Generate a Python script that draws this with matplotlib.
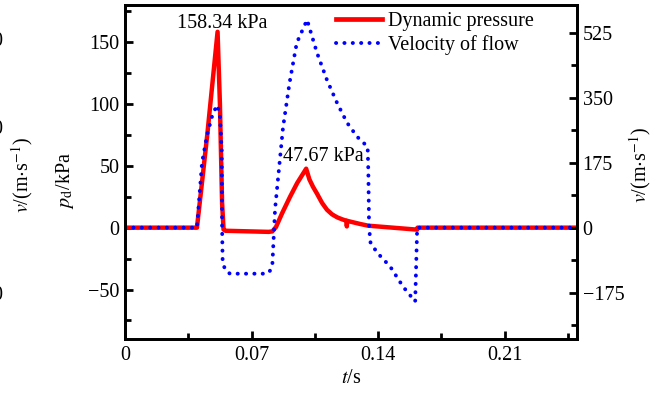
import matplotlib
matplotlib.use("Agg")
import matplotlib.pyplot as plt
from matplotlib.lines import Line2D
from matplotlib.ticker import MultipleLocator

plt.rcParams['font.family'] = ['Liberation Serif', 'DejaVu Serif']
plt.rcParams['mathtext.fontset'] = 'stix'

# Dynamic pressure p_d (kPa) versus time (s)
t_p = [0.0, 0.0398, 0.0455, 0.0512, 0.0525, 0.0537, 0.0545, 0.0555, 0.0795,
       0.0815, 0.0835, 0.0870, 0.0913, 0.0952, 0.1002, 0.1020, 0.1040, 0.1062,
       0.1090, 0.1117, 0.1145, 0.1173, 0.1200, 0.1225, 0.1227, 0.1229, 0.1260,
       0.1300, 0.1345, 0.1616, 0.1618, 0.25]
p_d = [0.0, 0.0, 75.0, 158.34, 100.0, 20.0, -1.5, -2.5, -3.4,
       -3.0, 0.5, 12.0, 25.0, 36.0, 47.67, 39.0, 33.0, 27.5,
       20.0, 14.5, 10.8, 8.4, 6.8, 5.6, 1.0, 5.5, 4.4,
       3.0, 1.6, -1.6, 0.0, 0.0]

# Flow velocity v (m/s) versus time (s)
t_v = [0.0, 0.0398, 0.0426, 0.0454, 0.0487, 0.0512, 0.0525, 0.0535, 0.0537,
       0.0540, 0.0553, 0.0580, 0.0785, 0.0800, 0.0815, 0.0830, 0.0850, 0.0874,
       0.0910, 0.0950, 0.1007, 0.1062, 0.1117, 0.1173, 0.1228, 0.1284, 0.1342,
       0.1346, 0.1350, 0.1358, 0.1394, 0.1467, 0.1538, 0.1605, 0.1616, 0.25]
vel = [0.0, 0.0, 175.0, 250.0, 310.0, 330.0, 300.0, 210.0, 0.0,
       -90.0, -113.0, -124.0, -124.0, -118.0, -100.0, 50.0, 150.0, 270.0,
       390.0, 498.0, 560.0, 471.0, 398.0, 336.0, 283.0, 245.0, 218.0,
       150.0, 0.0, -40.0, -67.0, -105.0, -159.0, -199.0, 0.0, 0.0]

peak_labels = ["158.34 kPa", "47.67 kPa"]
peak_pos = [(0.0512, 158.34), (0.1002, 47.67)]
label_offsets = [(3, -1), (12, 2)]

x_ticks = [0, 0.07, 0.14, 0.21]
x_ticklabels = ["0", "0.07", "0.14", "0.21"]
p_ticks = [-50, 0, 50, 100, 150]
v_ticks = [-175, 0, 175, 350, 525]

W, H = 660, 399
fig = plt.figure(figsize=(W / 100, H / 100), dpi=100)
ax = fig.add_axes([125 / W, 1 - 339 / H, (577 - 125) / W, (339 - 5) / H])
ax2 = ax.twinx()

red = '#ff0000'
blue = '#0000ff'
fs = 14.5
dot = (0, (0.05, 2.1))

ax.plot(t_p, p_d, color=red, lw=3.2, solid_joinstyle='round', solid_capstyle='round')
ax2.plot(t_v, vel, color=blue, lw=2.8, linestyle=dot, dash_capstyle='round')

ax.set_xlim(0, 0.25)
ax.set_ylim(-90, 180)
ax2.set_ylim(-300, 600)

ax.set_xticks(x_ticks)
ax.set_xticklabels(x_ticklabels)
ax.xaxis.set_minor_locator(MultipleLocator(0.035))
ax.set_yticks(p_ticks)
ax.yaxis.set_minor_locator(MultipleLocator(25))
ax2.set_yticks(v_ticks)
ax2.yaxis.set_minor_locator(MultipleLocator(87.5))

for a in (ax, ax2):
    for s in a.spines.values():
        s.set_linewidth(2.0)
    a.tick_params(which='major', direction='in', length=6, width=2.0, labelsize=fs)
    a.tick_params(which='minor', direction='in', length=4, width=2.0)
ax.tick_params(axis='x', which='both', top=False, pad=5)
ax.tick_params(axis='y', which='both', right=False, pad=4)
ax2.tick_params(axis='y', which='both', left=False, pad=4)

for lab, (x, y), off in zip(peak_labels, peak_pos, label_offsets):
    ax.annotate(lab, (x, y), xytext=off, textcoords='offset points',
                ha='center', va='bottom', fontsize=fs)

ax.set_xlabel(r'$t$/s', fontsize=fs, labelpad=3)
fig.text(65 / W, 1 - 180 / H, r'$p_{\rm d}$/kPa', rotation=90, fontsize=fs,
         ha='center', va='center')
fig.text(22 / W, 1 - 175 / H, r'$v$/(m$\cdot$s$^{-1}$)', rotation=90, fontsize=fs,
         ha='center', va='center')
fig.text(640 / W, 1 - 165 / H, r'$v$/(m$\cdot$s$^{-1}$)', rotation=90, fontsize=fs,
         ha='center', va='center')

# edge of the neighbouring panel's tick labels
for yy in (42, 130, 296):
    fig.text(-3 / W, 1 - yy / H, "0", fontsize=fs, ha='center', va='center')

handles = [Line2D([], [], color=red, lw=3.4),
           Line2D([], [], color=blue, lw=2.8, linestyle=dot, dash_capstyle='round')]
ax2.legend(handles, ["Dynamic pressure", "Velocity of flow"], loc='upper left',
           bbox_to_anchor=(336 / W, 1 - 12 / H), bbox_transform=fig.transFigure,
           frameon=False, fontsize=fs, handlelength=2.3, handletextpad=0.3,
           labelspacing=0.2, borderaxespad=0.0, borderpad=0.0)

fig.savefig('out.png', dpi=100)
